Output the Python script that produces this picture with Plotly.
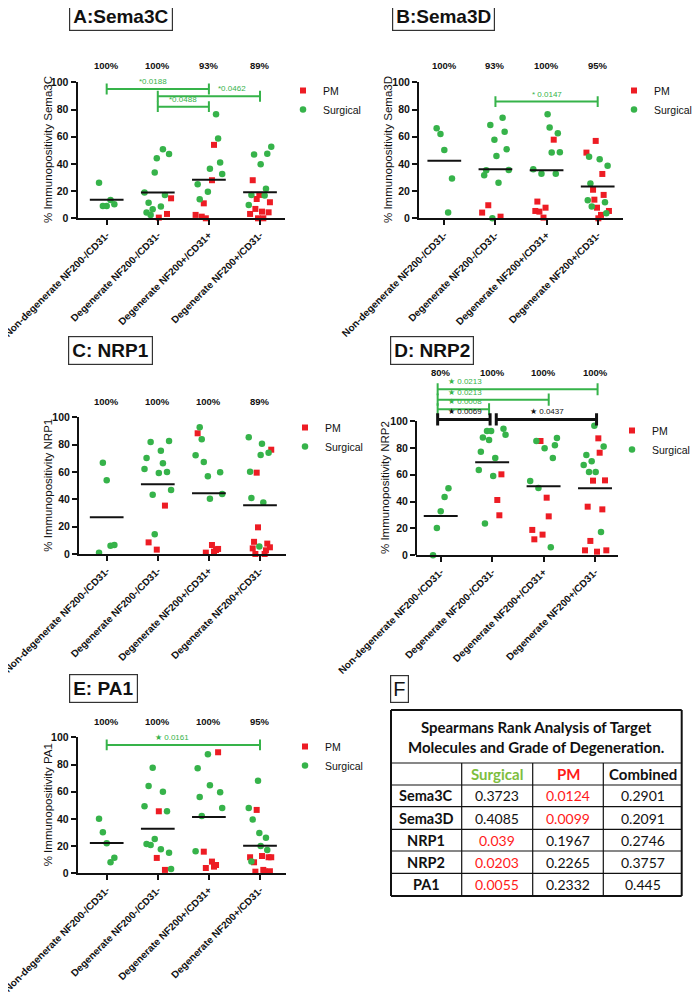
import numpy as np
import plotly.graph_objects as go

# ------------------------------------------------------------------ data
categories = ["Non-degenerate NF200-/CD31-", "Degenerate NF200-/CD31-",
              "Degenerate NF200+/CD31+", "Degenerate NF200+/CD31-"]
cat_pos = [1, 2, 3, 4]

# values per category in left-to-right order; groups: S = Surgical, P = PM
sema3c_values = [
    [26.2, 9.1, 9.1, 13.5, 10.3],
    [18.9, 4.2, 11.5, 2.5, 6.6, 33.6, 44.1, 0.5, 8.6, 50.7, 17.2, 3.2, 47.3, 14.7],
    [2.5, 25, 14, 1.2, 11, 0, 19.6, 36.5, 28, 54, 76.5, 58.6, 41, 32.6],
    [9.8, 3.2, 17.2, 28, 47, 6.9, 14.2, 0, 17.2, 39.7, 4.9, 0, 16.7, 21.8, 47.5, 4.4, 11.8, 52.7],
]
sema3c_groups = ["SSSSS", "SSSSSSSPSSSPSP", "PSSPPPSSPPSSSS", "SPSPSPPPPSPPSSSPPS"]
sema3c_means = [13.7, 18.9, 28.4, 19.1]
sema3c_pct = ["100%", "100%", "93%", "89%"]
sema3c_sig = [(1, 3, "*0.0188", "Surgical"), (2, 4, "*0.0462", "Surgical"), (2, 3, "*0.0488", "Surgical")]

sema3d_values = [
    [66.2, 62, 50.2, 4.2, 29.2],
    [4.2, 31.6, 35.3, 9.6, 68.6, 0, 57.8, 45.8, 26.2, 1.2, 74, 63.7, 50.7, 35.5],
    [36, 5.4, 12.3, 4.9, 32.8, 0.5, 7.8, 76.5, 66.7, 48.3, 57.8, 32.8, 62.5, 48.5],
    [48.3, 13.2, 45.3, 25.5, 8.6, 21, 13.7, 56.9, 7.8, 0, 43.4, 2.5, 32.6, 17.2, 11.8, 3.7, 38.7, 5.4],
]
sema3d_groups = ["SSSSS", "PSSPSSSSSPSSSS", "SPPPSPPSSSPSSS", "PSSSSPPPPPSPPPSSSP"]
sema3d_means = [42.4, 36.0, 35.3, 23.3]
sema3d_pct = ["100%", "93%", "100%", "95%"]
sema3d_sig = [(2, 4, "* 0.0147", "Surgical")]

nrp1_values = [
    [1, 66.8, 53.9, 6.1, 6.6],
    [62.2, 70.2, 8.5, 81.9, 43.4, 14.4, 3.2, 59.3, 75.6, 66.3, 35.4, 60, 82.7, 46.8],
    [72.2, 88.3, 92.7, 83.9, 67.3, 1, 56.8, 40.5, 6.6, 1.7, 2.9, 3.7, 59.8, 43.9],
    [85.4, 60.2, 41, 4.1, 8.9, 0, 59.5, 19.5, 5.4, 72.4, 80.7, 37.6, 0, 2.7, 7.6, 74.1, 4.9, 76.3],
]
nrp1_groups = ["SSSSS", "SSPSSSPSSSPSSS", "SPSSSPSSPPPPSS", "SSSPPPPPSSSSPPPSPP"]
nrp1_means = [26.8, 51.0, 44.4, 35.6]
nrp1_pct = ["100%", "100%", "100%", "89%"]
nrp1_sig = []

nrp2_values = [
    [0, 20.3, 32.8, 43.4, 49.9],
    [63.5, 77.2, 87.8, 23.6, 92.6, 85.9, 92.6, 59, 72.5, 41.2, 29.8, 60.3, 94.3, 89.8],
    [55.3, 18.9, 11.9, 85.1, 50.1, 85.1, 15.4, 79.7, 42.9, 29, 6, 72.5, 81.9, 87.3],
    [67.2, 3.7, 74.7, 36.2, 62, 10.7, 70, 55.6, 96.5, 62, 2.7, 87.1, 76.4, 17.4, 34.2, 81.1, 55.8, 3.7],
]
nrp2_groups = ["SSSSS", "SSSSSSSSSPPPSS", "SPPSSPPSPPSSSS", "SPSPSPSPSSPPPSPSPP"]
nrp2_means = [29.3, 69.2, 51.4, 49.9]
nrp2_pct = ["80%", "100%", "100%", "100%"]
nrp2_sig = [(1, 4, "\u2605 0.0213", "Surgical"), (1, 3, "\u2605 0.0213", "Surgical"),
            (1, 2, "\u2605 0.0008", "Surgical"), (1, 2, "\u2605 0.0069", "Combined"),
            (2, 4, "\u2605 0.0437", "Combined")]

pa1_values = [
    [40.2, 30.1, 22.1, 8.1, 11.5],
    [49.3, 21.6, 64.2, 20.8, 77.7, 25.2, 11.3, 45.6, 17.6, 60, 2.5, 45.6, 15.2, 3.2],
    [16.2, 77.2, 56.1, 42.2, 15.9, 3.9, 87.5, 64.7, 8.6, 4.9, 6.1, 89, 59.6, 48],
    [48, 11.8, 8.6, 39.5, 8.1, 1.2, 46.6, 68.1, 29.7, 20.1, 12.7, 2.5, 1.5, 26.2, 17.2, 11.8, 1.5, 11.8],
]
pa1_groups = ["SSSSS", "SSSSSSPPSSPSSS", "SSSSPPSSPPPPSS", "SPSSPPPSSSPPPSSPPP"]
pa1_means = [22.3, 32.8, 41.4, 20.3]
pa1_pct = ["100%", "100%", "100%", "95%"]
pa1_sig = [(1, 4, "\u2605 0.0161", "Surgical")]

table_title = "Spearmans Rank Analysis of Target<br>Molecules and Grade of Degeneration."
table_rows = ["Sema3C", "Sema3D", "NRP1", "NRP2", "PA1"]
table_cols = ["Surgical", "PM", "Combined"]
table_surgical = [0.3723, 0.4085, 0.039, 0.0203, 0.0055]
table_pm = [0.0124, 0.0099, 0.1967, 0.2265, 0.2332]
table_combined = [0.2901, 0.2091, 0.2746, 0.3757, 0.445]

# ------------------------------------------------------------------ styling / layout
OFF = 8                      # page body margin
W, H = 700 - OFF, 999 - OFF  # figure size
GREEN = "#36B34A"
RED = "#ED1C24"
BLACK = "#111111"
FONT = "Liberation Sans, Arial, sans-serif"
TFONT = "Lato, Liberation Sans, sans-serif"
SIG_COLOR = {"Surgical": GREEN, "Combined": BLACK}


def px(xp):
    return (xp - OFF) / W


def py(yp):
    return 1 - (yp - OFF) / H


panels = [
    dict(title="A:Sema3C", ytitle="% Immunopositivity Sema3C",
         values=sema3c_values, groups=sema3c_groups, means=sema3c_means, pct=sema3c_pct, sig=sema3c_sig,
         xdom=(77.5, 285), ydom=(218.3, 82.3), yr=(0, 100), xr=(0.429, 4.489),
         ytpos=(48, 150), tpos=(121, 16), legpos=(303, 90), pcty=65,
         levels=[95.1, 89.7, 82.1], labx=[1.9, 3.46, 2.5], laban=["center"] * 3,
         ends=[(0, 0)] * 3, tick=4),
    dict(title="B:Sema3D", ytitle="% Immunopositivity Sema3D",
         values=sema3d_values, groups=sema3d_groups, means=sema3d_means, pct=sema3d_pct, sig=sema3d_sig,
         xdom=(419, 623), ydom=(218.3, 82.3), yr=(0, 100), xr=(0.505, 4.495),
         ytpos=(388, 150), tpos=(443, 17), legpos=(634, 90), pcty=65,
         levels=[85.8], labx=[3.0], laban=["center"], ends=[(0, 0)], tick=4),
    dict(title="C: NRP1", ytitle="% Immunopositivity NRP1",
         values=nrp1_values, groups=nrp1_groups, means=nrp1_means, pct=nrp1_pct, sig=nrp1_sig,
         xdom=(79, 285.7), ydom=(554, 417.3), yr=(0, 100), xr=(0.458, 4.503),
         ytpos=(48, 485.7), tpos=(110.5, 350), legpos=(305, 427), pcty=401,
         levels=[], labx=[], laban=[], ends=[], tick=4),
    dict(title="D: NRP2", ytitle="% Immunopositivity NRP2",
         values=nrp2_values, groups=nrp2_groups, means=nrp2_means, pct=nrp2_pct, sig=nrp2_sig,
         xdom=(416, 618.3), ydom=(555.3, 367.3), yr=(0, 140), xr=(0.519, 4.453),
         ytpos=(385, 488), tpos=(431.5, 350), legpos=(632, 430), pcty=372.7,
         levels=[123.6, 115.9, 108.7, 101.2, 101.2], labx=[1.1, 1.1, 1.1, 1.1, 3.06],
         laban=["left", "left", "left", "left", "center"],
         ends=[(-0.06, 0.05), (-0.06, 0.1), (-0.06, -0.06), (-0.06, -0.04), (0.08, 0.03)], tick=4.5),
    dict(title="E: PA1", ytitle="% Immunopositivity PA1",
         values=pa1_values, groups=pa1_groups, means=pa1_means, pct=pa1_pct, sig=pa1_sig,
         xdom=(77.7, 285.7), ydom=(873.3, 737.3), yr=(0, 100), xr=(0.4325, 4.503),
         ytpos=(48, 805.3), tpos=(103, 688.5), legpos=(305, 746), pcty=721,
         levels=[94.4], labx=[2.27], laban=["center"], ends=[(0, 0)], tick=4),
]

fig = go.Figure()
layout_upd = {}

for i, p in enumerate(panels):
    n = i + 1
    sfx = "" if n == 1 else str(n)
    xa, ya, leg = "x" + sfx, "y" + sfx, "legend" + sfx

    # jittered x positions (evenly spread in left-to-right order)
    xs = {"S": [], "P": []}
    ys = {"S": [], "P": []}
    for c, vals, grp in zip(cat_pos, p["values"], p["groups"]):
        nn = len(vals)
        w = 0.15 if nn <= 6 else (0.22 if nn >= 17 else 0.26)
        offs = np.linspace(-w, w, nn)
        for v, g, o in zip(vals, grp, offs):
            xs[g].append(c + o)
            ys[g].append(v)

    fig.add_trace(go.Scatter(x=xs["P"], y=ys["P"], mode="markers", name="PM",
                             marker=dict(symbol="square", size=6, color=RED, line=dict(width=0)),
                             xaxis=xa, yaxis=ya, legend=leg, cliponaxis=False, hoverinfo="skip"))
    fig.add_trace(go.Scatter(x=xs["S"], y=ys["S"], mode="markers", name="Surgical",
                             marker=dict(symbol="circle", size=6.5, color=GREEN, line=dict(width=0)),
                             xaxis=xa, yaxis=ya, legend=leg, cliponaxis=False, hoverinfo="skip"))
    # mean lines
    mx, my = [], []
    for c, m in zip(cat_pos, p["means"]):
        mx += [c - 0.33, c + 0.33, None]
        my += [m, m, None]
    fig.add_trace(go.Scatter(x=mx, y=my, mode="lines", line=dict(color=BLACK, width=2),
                             xaxis=xa, yaxis=ya, showlegend=False, hoverinfo="skip"))

    x0, x1 = p["xdom"]
    yb, yt = p["ydom"]
    is_d = p["yr"][1] > 100
    layout_upd["xaxis" + sfx] = dict(
        domain=[px(x0), px(x1)], range=list(p["xr"]), anchor=ya,
        tickvals=cat_pos, ticktext=categories, tickangle=-45, ticklabeloverflow="allow",
        tickfont=dict(family=FONT, size=10, color=BLACK, weight="bold"),
        showline=True, linecolor=BLACK, linewidth=2, ticks="outside", ticklen=5,
        tickwidth=2, tickcolor=BLACK, showgrid=False, zeroline=False, automargin=False)
    layout_upd["yaxis" + sfx] = dict(
        domain=[py(yb), py(yt)], range=list(p["yr"]), anchor=xa,
        tickvals=[0, 20, 40, 60, 80, 100], ticklabeloverflow="allow",
        tickfont=dict(family=FONT, size=10.5, color=BLACK, weight="bold"),
        showline=not is_d, linecolor=BLACK, linewidth=2, ticks="outside", ticklen=5,
        tickwidth=2, tickcolor=BLACK, showgrid=False, zeroline=False, automargin=False)
    if is_d:
        fig.add_shape(type="line", xref=xa + " domain", yref=ya, x0=0, x1=0, y0=0, y1=100,
                      line=dict(color=BLACK, width=2))

    lx, ly = p["legpos"]
    layout_upd[leg] = dict(x=px(lx - 20), y=py(ly - 14), xanchor="left", yanchor="top",
                           bgcolor="rgba(0,0,0,0)", font=dict(family=FONT, size=10.5, color=BLACK),
                           itemwidth=30, tracegroupgap=0)

    # y-axis title
    fig.add_annotation(xref="paper", yref="paper", x=px(p["ytpos"][0]), y=py(p["ytpos"][1]),
                       xanchor="center", yanchor="middle",
                       text=p["ytitle"], textangle=-90, showarrow=False,
                       font=dict(family=FONT, size=11.5, color=BLACK))
    # panel title box
    fig.add_annotation(xref="paper", yref="paper", x=px(p["tpos"][0]), y=py(p["tpos"][1]),
                       xanchor="center", yanchor="middle",
                       text="<b>%s</b>" % p["title"], showarrow=False,
                       font=dict(family=FONT, size=19, color=BLACK),
                       bordercolor="#333333", borderwidth=1.2, borderpad=3, bgcolor="white")
    # percentage labels
    for c, t in zip(cat_pos, p["pct"]):
        fig.add_annotation(xref=xa, yref="paper", x=c, y=py(p["pcty"]), text="<b>%s</b>" % t,
                           xanchor="center", yanchor="middle",
                           showarrow=False, font=dict(family=FONT, size=9.5, color=BLACK))
    # significance brackets
    h = p["tick"]
    for (c1, c2, lab, coh), lev, lxp, an, (dl, dr) in zip(p["sig"], p["levels"], p["labx"],
                                                           p["laban"], p["ends"]):
        col = SIG_COLOR[coh]
        lw = 3 if coh == "Combined" else 2
        a, b = c1 + dl, c2 + dr
        for (sx0, sy0, sx1, sy1) in [(a, lev, b, lev), (a, lev - h, a, lev + h), (b, lev - h, b, lev + h)]:
            fig.add_shape(type="line", xref=xa, yref=ya, x0=sx0, y0=sy0, x1=sx1, y1=sy1,
                          line=dict(color=col, width=lw))
        fig.add_annotation(xref=xa, yref=ya, x=lxp, y=lev, text=lab, showarrow=False,
                           xanchor=an, yanchor="bottom", yshift=1,
                           font=dict(family=FONT, size=8, color=col))

# ------------------------------------------------------------------ panel F table (drawn with shapes + text)
TGREEN = "#7DBE3E"
TRED = "#FF1A1A"
col_edges = [391, 461.7, 532.7, 603.3, 681.7]
row_edges = [710, 763, 785, 806.7, 829.3, 851, 873.3, 896]


def colr(v):
    return TRED if v < 0.05 else BLACK


fig.add_annotation(xref="paper", yref="paper", x=px(399.5), y=py(689), text="F", showarrow=False,
                   xanchor="center", yanchor="middle",
                   font=dict(family=FONT, size=20, color=BLACK),
                   bordercolor="#333333", borderwidth=1.2, borderpad=2, bgcolor="white")
for k, yv in enumerate(row_edges):
    fig.add_shape(type="line", xref="paper", yref="paper", x0=px(col_edges[0]), x1=px(col_edges[-1]),
                  y0=py(yv), y1=py(yv),
                  line=dict(color=BLACK, width=2 if k in (0, len(row_edges) - 1) else 1.2))
for k, xv in enumerate(col_edges):
    outer = k in (0, len(col_edges) - 1)
    fig.add_shape(type="line", xref="paper", yref="paper", x0=px(xv), x1=px(xv),
                  y0=py(row_edges[0] if outer else row_edges[1]), y1=py(row_edges[-1]),
                  line=dict(color=BLACK, width=2 if outer else 1.2))

fig.add_annotation(xref="paper", yref="paper", x=px((col_edges[0] + col_edges[-1]) / 2),
                   y=py((row_edges[0] + row_edges[1]) / 2), xanchor="center", yanchor="middle",
                   text="<b>%s</b>" % table_title, showarrow=False,
                   font=dict(family=TFONT, size=15, color=BLACK))


def cell(ci, ri, text, color, size, bold):
    xc = (col_edges[ci] + col_edges[ci + 1]) / 2
    yc = (row_edges[ri] + row_edges[ri + 1]) / 2
    fig.add_annotation(xref="paper", yref="paper", x=px(xc), y=py(yc), xanchor="center",
                       yanchor="middle", showarrow=False,
                       text=("<b>%s</b>" % text) if bold else text,
                       font=dict(family=TFONT, size=size, color=color))


for ci, (name, colc) in enumerate(zip(table_cols, [TGREEN, TRED, BLACK])):
    cell(ci + 1, 1, name, colc, 15, True)
for ri, r in enumerate(table_rows):
    cell(0, ri + 2, r, BLACK, 14.5, True)
    cell(1, ri + 2, str(table_surgical[ri]), colr(table_surgical[ri]), 14, False)
    cell(2, ri + 2, str(table_pm[ri]), colr(table_pm[ri]), 14, False)
    cell(3, ri + 2, str(table_combined[ri]), BLACK, 14, False)

fig.update_layout(width=W, height=H, margin=dict(l=0, r=0, t=0, b=0, autoexpand=False),
                  plot_bgcolor="white", paper_bgcolor="white", showlegend=True,
                  **layout_upd)

fig.write_html("out.html")
